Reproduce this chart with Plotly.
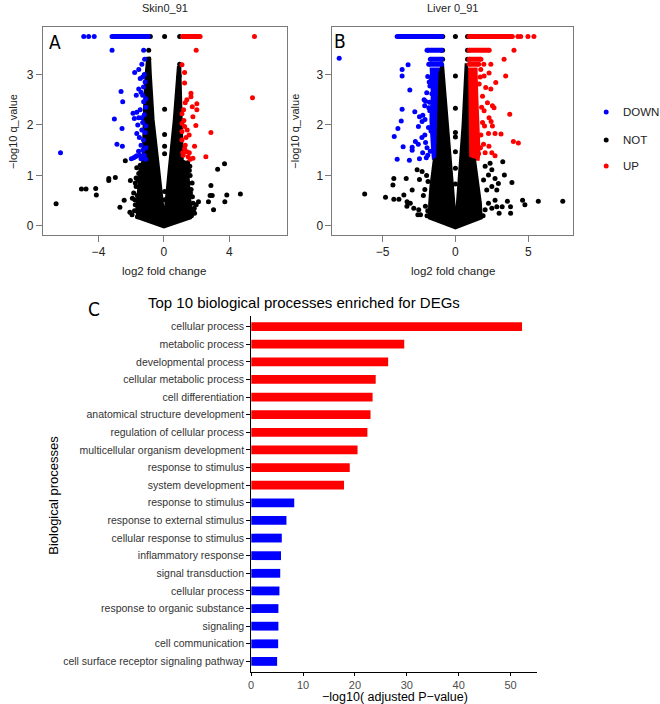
import plotly.graph_objects as go

W, H = 660, 704
FONT = "Liberation Sans, Arial, sans-serif"
NARROW = "Liberation Sans Narrow, DejaVu Sans Condensed, Arial Narrow, sans-serif"
BLUE, RED, BLACK = "#0000FF", "#FF0000", "#000000"

# ---------------- Panel A : Skin0_91 ----------------
A_down_x = [-4.90, -4.60, -4.26, -3.17, -1.24, -1.18, -1.35, -1.54, -1.79, -1.20, -1.30, -1.45,
            -1.15, -1.25, -1.54, -2.62, -1.40, -1.69, -1.30, -1.10, -2.52, -1.24, -1.12, -1.45,
            -1.66, -1.89, -1.20, -1.54, -1.36, -1.81, -3.03, -1.30, -1.60, -1.10, -2.56, -1.35,
            -1.15, -1.66, -1.50, -1.25, -2.87, -1.40, -2.54, -1.10, -1.30, -1.55, -6.32, -1.20,
            -1.66, -1.48, -1.75, -1.85, -1.99, -1.40, -1.12]
A_down_y = [3.75, 3.75, 3.75, 3.48, 3.48, 3.30, 3.20, 3.10, 3.04, 3.00, 2.95, 2.92,
            2.85, 2.75, 2.71, 2.66, 2.65, 2.59, 2.59, 2.52, 2.46, 2.46, 2.35, 2.30,
            2.25, 2.23, 2.20, 2.14, 2.14, 2.13, 2.12, 2.05, 2.00, 1.98, 1.93, 1.90,
            1.85, 1.83, 1.75, 1.70, 1.62, 1.60, 1.58, 1.55, 1.50, 1.48, 1.45, 1.40,
            1.39, 1.40, 1.37, 1.35, 1.33, 1.33, 1.32]
A_down_row_x0 = [-3.17]
A_down_row_x1 = [-0.95]
A_down_row_y = [3.75]

A_up_x = [5.53, 1.97, 1.10, 1.26, 1.26, 1.65, 1.65, 5.41, 1.40, 1.30, 2.01, 1.73, 2.01, 1.20,
          1.10, 1.77, 1.22, 1.10, 1.95, 1.26, 1.42, 1.10, 2.87, 1.54, 1.35, 1.10, 1.30, 1.87,
          1.26, 1.40, 1.15, 1.18, 1.55, 1.48, 2.56, 1.77, 1.60]
A_up_y = [3.75, 3.48, 3.19, 3.04, 2.83, 2.63, 2.56, 2.54, 2.50, 2.44, 2.42, 2.36, 2.30, 2.30,
          2.22, 2.16, 2.09, 2.03, 1.99, 1.97, 1.90, 1.87, 1.85, 1.80, 1.75, 1.70, 1.60, 1.58,
          1.53, 1.47, 1.45, 1.40, 1.45, 1.37, 1.37, 1.34, 1.32]
A_up_row_x0 = [1.14]
A_up_row_x1 = [2.21]
A_up_row_y = [3.75]

A_not_x = [-0.83, 0.04, 0.96, -0.93, -0.93, 0.96, 0.93, 0.04, 0.04, 0.04, 0.04, 0.04, 0.04,
           -6.59, -5.04, -4.76, -4.17, -4.13, -3.37, -3.37, -2.97, -2.36, -2.43, -2.69, -2.05,
           -2.08, -1.93, -1.75, -1.54, -1.70, -1.85, -1.80, -1.95, -1.70, -1.45, -1.62,
           3.28, 3.70, 2.87, 2.82, 2.95, 2.72, 3.84, 3.72, 4.67, 3.03, 2.11, 1.97, 1.87, 1.55,
           1.72, 1.62, 1.78, 1.85, 1.45, 1.68,
           -1.58, -1.62, -1.75, -1.78, -1.66, 1.60, 1.66, 1.74, 1.58, 1.80]
A_not_y = [3.75, 3.75, 3.75, 3.48, 3.30, 3.20, 2.97, 2.31, 1.81, 1.58, 1.43, 0.68, 0.52,
           0.44, 0.73, 0.73, 0.74, 0.61, 0.94, 0.90, 0.96, 1.29, 0.51, 0.37, 0.90,
           0.27, 0.55, 0.42, 1.04, 0.78, 0.65, 0.30, 0.22, 0.95, 1.20, 0.18,
           1.12, 1.23, 0.80, 0.60, 0.60, 0.48, 0.61, 0.48, 0.63, 0.32, 0.48, 0.42, 0.25, 1.10,
           0.85, 0.65, 0.45, 0.35, 1.25, 0.20,
           0.90, 0.60, 0.85, 0.52, 1.15, 1.00, 0.72, 0.58, 1.18, 0.30]
# outline of the saturated black mass of NOT genes
A_core_x = [-1.02, -1.12, -1.20, -1.25, -1.30, -1.50, -1.55, -1.65, -1.70, -1.60, 0.00, 1.65,
            1.70, 1.60, 1.55, 1.45, 1.15, 1.08, 1.00, 0.85, 0.60, 0.30, 0.02, -0.30, -0.63,
            -0.80, -0.85]
A_core_y = [3.35, 3.00, 2.50, 2.00, 1.30, 1.10, 0.80, 0.50, 0.30, 0.15, -0.03, 0.15,
            0.30, 0.55, 0.85, 1.25, 1.30, 2.50, 3.15, 3.15, 2.10, 1.15, 0.20, 1.15, 2.10,
            3.00, 3.35]

# ---------------- Panel B : Liver 0_91 ----------------
B_down_x = [-7.98, -3.25, -3.66, -3.66, -3.13, -3.66, -2.79, -2.11, -3.72, -2.29, -2.54, -3.95,
            -4.20, -2.75, -2.55, -3.59, -2.97, -2.97, -2.25, -2.47, -4.00, -3.16,
            -2.47, -2.24, -1.76, -1.83, -1.60, -2.09, -1.97, -2.15, -2.05, -1.90, -1.80, -1.65,
            -1.75, -2.10, -1.95, -1.90, -2.05, -1.85, -2.30, -2.00, -1.72, -1.68, -1.78, -1.62]
B_down_y = [3.32, 3.19, 3.10, 2.97, 2.69, 2.31, 2.26, 2.38, 2.08, 2.07, 1.97, 1.93,
            1.77, 1.67, 1.62, 1.57, 1.56, 1.50, 1.45, 1.33, 1.32, 1.30,
            2.16, 2.19, 2.28, 2.34, 2.20, 2.11, 2.64, 2.50, 2.47, 2.96, 2.85, 2.90,
            2.77, 1.80, 1.55, 1.40, 1.65, 1.95, 1.75, 1.35, 1.48, 1.88, 2.45, 2.62]
B_down_row_x0 = [-4.00, -1.95, -1.72, -1.83]
B_down_row_x1 = [-0.95, -0.95, -0.95, -0.95]
B_down_row_y = [3.75, 3.48, 3.30, 3.20]
B_down_band_x = [-1.05, -1.70, -1.62, -1.72, -1.62, -1.55, -1.10]
B_down_band_y = [3.12, 3.12, 2.60, 2.10, 1.60, 1.33, 1.33]

B_up_x = [4.29, 4.48, 4.98, 5.39, 4.02, 3.34, 2.43, 1.95, 1.74, 2.31, 1.97, 3.45, 2.77, 1.63,
          2.08, 2.43, 1.86, 2.20, 2.54, 2.65, 1.97, 3.73, 2.31, 2.45, 1.86, 2.00, 2.54, 2.27,
          2.72, 3.13, 3.98, 4.32, 1.93, 2.30, 2.04, 2.50, 1.59, 2.72, 1.75, 1.80, 1.70, 1.72]
B_up_y = [3.75, 3.75, 3.75, 3.75, 3.48, 3.30, 3.20, 3.20, 3.10, 3.03, 2.97, 2.97, 2.84, 2.81,
          2.74, 2.71, 2.57, 2.44, 2.38, 2.34, 2.28, 2.21, 2.14, 2.07, 2.05, 1.98, 1.98, 1.83,
          1.83, 1.82, 1.67, 1.64, 1.62, 1.58, 1.45, 1.45, 1.43, 1.39, 1.80, 2.35, 2.95, 1.55]
B_up_row_x0 = [0.95, 0.95, 0.95, 0.95]
B_up_row_x1 = [3.91, 2.32, 1.75, 1.60]
B_up_row_y = [3.75, 3.48, 3.30, 3.20]
B_up_band_x = [0.85, 1.45, 1.50, 1.60, 1.65, 1.60, 0.85]
B_up_band_y = [3.12, 3.12, 2.60, 2.00, 1.50, 1.31, 1.31]

B_not_x = [-0.87, 0.00, 0.83, -0.88, 0.83, -0.88, 0.83, 0.00, 0.00, 0.00, 0.00, 0.00, 0.00, 0.00,
           -6.23, -4.80, -4.23, -3.88, -3.54, -4.29, -4.23, -3.38, -2.97, -2.63, -2.47, -3.32,
           -3.10, -3.33, -2.86, -2.52, -2.58, -2.40, -2.06, -1.90, -2.29, -1.98, -1.88, -2.10,
           -2.20, -1.95,
           4.61, 4.77, 5.69, 7.37, 3.88, 3.25, 3.36, 3.57, 3.78, 3.79, 2.72, 2.84, 3.00, 3.21,
           2.27, 2.50, 2.04, 2.38, 2.50, 2.27, 2.72, 2.95, 2.50, 2.84, 2.04, 1.93, 2.15, 1.90]
B_not_y = [3.75, 3.75, 3.75, 3.48, 3.48, 3.30, 3.30, 2.97, 2.33, 1.85, 1.76, 1.47, 1.14, 0.83,
           0.63, 0.57, 0.53, 0.53, 0.61, 0.81, 0.94, 0.94, 0.71, 1.11, 0.92, 0.48,
           0.45, 0.39, 0.35, 0.32, 0.22, 0.22, 0.39, 0.30, 1.08, 1.00, 0.88, 0.72,
           0.60, 0.20,
           0.51, 0.42, 0.49, 0.49, 0.86, 1.27, 1.01, 0.49, 0.38, 0.25, 0.51, 0.38, 0.25, 0.38,
           0.45, 0.35, 0.32, 1.24, 1.11, 1.01, 0.94, 0.84, 0.78, 0.71, 1.18, 0.91, 0.71, 0.20]
B_core_x = [-0.95, -1.10, -1.20, -1.25, -1.49, -1.60, -1.72, -1.80, -1.83, 0.00, 1.81, 1.75,
            1.58, 1.45, 1.35, 0.88, 0.85, 0.80, 0.70, 0.49, 0.02, -0.53, -0.80, -0.85]
B_core_y = [3.20, 3.00, 2.00, 1.35, 1.31, 1.05, 0.78, 0.45, 0.15, -0.05, 0.15, 0.45,
            0.78, 1.05, 1.31, 1.35, 2.50, 3.20, 3.20, 2.00, 0.12, 2.00, 3.00, 3.20]

# ---------------- Panel C : GO enrichment ----------------
processes = ["cellular process", "metabolic process", "developmental process",
             "cellular metabolic process", "cell differentiation",
             "anatomical structure development", "regulation of cellular process",
             "multicellular organism development", "response to stimulus",
             "system development",
             "response to stimulus", "response to external stimulus",
             "cellular response to stimulus", "inflammatory response",
             "signal transduction", "cellular process", "response to organic substance",
             "signaling", "cell communication", "cell surface receptor signaling pathway"]
neglog10_padj = [52.2, 29.5, 26.4, 24.0, 23.4, 23.0, 22.4, 20.5, 19.0, 17.9,
                 8.3, 6.8, 5.9, 5.75, 5.6, 5.45, 5.25, 5.25, 5.2, 5.0]
regulation = ["UP"] * 10 + ["DOWN"] * 10

fig = go.Figure()


def rows(x0s, x1s, ys):
    xs, yy = [], []
    for a, b, y in zip(x0s, x1s, ys):
        xs += [a, b, None]
        yy += [y, y, None]
    return xs, yy


def add_volcano(ax, core, bands, pts, rowsets):
    xa, ya = ("x", "y") if ax == 1 else ("x%d" % ax, "y%d" % ax)
    for (bx, by, col) in bands:
        fig.add_trace(go.Scatter(x=bx, y=by, xaxis=xa, yaxis=ya, mode="lines", fill="toself",
                                 fillcolor=col, line=dict(color=col, width=2),
                                 hoverinfo="skip", showlegend=False))
    cx, cy = core
    fig.add_trace(go.Scatter(x=cx, y=cy, xaxis=xa, yaxis=ya, mode="lines", fill="toself",
                             fillcolor=BLACK, line=dict(color=BLACK, width=2),
                             hoverinfo="skip", showlegend=False))
    for (px, py, col) in pts:
        fig.add_trace(go.Scatter(x=px, y=py, xaxis=xa, yaxis=ya, mode="markers",
                                 marker=dict(color=col, size=5, line=dict(width=0)),
                                 showlegend=False))
    for (x0, x1, yv, col) in rowsets:
        rx, ry = rows(x0, x1, yv)
        fig.add_trace(go.Scatter(x=rx, y=ry, xaxis=xa, yaxis=ya, mode="lines+markers",
                                 line=dict(color=col, width=5),
                                 marker=dict(color=col, size=5, line=dict(width=0)),
                                 showlegend=False))


add_volcano(1, (A_core_x, A_core_y), [],
            [(A_not_x, A_not_y, BLACK), (A_down_x, A_down_y, BLUE), (A_up_x, A_up_y, RED)],
            [(A_down_row_x0, A_down_row_x1, A_down_row_y, BLUE),
             (A_up_row_x0, A_up_row_x1, A_up_row_y, RED)])
add_volcano(2, (B_core_x, B_core_y),
            [(B_down_band_x, B_down_band_y, BLUE), (B_up_band_x, B_up_band_y, RED)],
            [(B_not_x, B_not_y, BLACK), (B_down_x, B_down_y, BLUE), (B_up_x, B_up_y, RED)],
            [(B_down_row_x0, B_down_row_x1, B_down_row_y, BLUE),
             (B_up_row_x0, B_up_row_x1, B_up_row_y, RED)])

bar_colors = [RED if r == "UP" else BLUE for r in regulation]
positions = list(range(len(processes)))
fig.add_trace(go.Bar(x=neglog10_padj, y=positions, orientation="h", width=0.5,
                     marker=dict(color=bar_colors, line=dict(width=0)),
                     xaxis="x3", yaxis="y3", showlegend=False))


def px_x(p):
    return p / W


def px_y(p):
    return 1 - p / H


vol_y_dom = [px_y(235), px_y(27)]
axis_common = dict(showgrid=False, zeroline=False, showline=True, mirror=True,
                   linecolor="#7a7a7a", linewidth=1, ticks="outside", ticklen=6,
                   tickcolor="#7a7a7a", tickfont=dict(size=12, color="#222", family=FONT))
fig.update_layout(
    width=W, height=H, margin=dict(l=0, r=0, t=0, b=0),
    paper_bgcolor="white", plot_bgcolor="white", showlegend=False,
    font=dict(family=FONT, color="#222"),
    xaxis=dict(domain=[px_x(40), px_x(285)], range=[-7.4, 7.5], tickvals=[-4, 0, 4],
               anchor="y", **axis_common),
    yaxis=dict(domain=vol_y_dom, range=[-0.18, 3.94], tickvals=[0, 1, 2, 3],
               anchor="x", **axis_common),
    xaxis2=dict(domain=[px_x(331), px_x(573)], range=[-8.44, 8.1], tickvals=[-5, 0, 5],
                anchor="y2", **axis_common),
    yaxis2=dict(domain=vol_y_dom, range=[-0.18, 3.94], tickvals=[0, 1, 2, 3],
                anchor="x2", **axis_common),
    xaxis3=dict(domain=[px_x(249.3), px_x(536)], range=[0, 55], tickvals=[0, 10, 20, 30, 40, 50],
                anchor="y3", showgrid=False, zeroline=False, showline=True, linecolor="black",
                linewidth=1, ticks="outside", ticklen=3, tickcolor="black",
                tickfont=dict(size=11, color="#4d4d4d", family=FONT)),
    yaxis3=dict(domain=[px_y(672), px_y(316)], range=[len(processes) - 0.4, -0.6],
                tickvals=positions, ticktext=processes, anchor="x3",
                showgrid=False, zeroline=False, showline=True, linecolor="black", linewidth=1,
                ticks="outside", ticklen=4, tickcolor="black",
                tickfont=dict(size=10.5, color="#333", family=FONT)),
)

ann = []


def text(x, y, s, size, **kw):
    d = dict(x=px_x(x), y=px_y(y), xref="paper", yref="paper", text=s, showarrow=False,
             font=dict(size=size, color=kw.pop("color", "#222"), family=kw.pop("family", FONT)),
             xanchor=kw.pop("xanchor", "center"), yanchor=kw.pop("yanchor", "middle"))
    d.update(kw)
    ann.append(d)


text(163, 8, "Skin0_91", 11)
text(452, 8, "Liver 0_91", 11)
text(162, 271, "log2 fold change", 11.5)
text(452, 271, "log2 fold change", 11.5)
text(10, 131, "\u2212log10 q_value", 11, textangle=-90)
text(293, 131, "\u2212log10 q_value", 11, textangle=-90)
text(52, 42, "A", 19, family=NARROW, color="black")
text(339, 41, "B", 19, family=NARROW, color="black")
text(91, 309, "C", 19, family=NARROW, color="black")
text(302, 302, "Top 10 biological processes enriched for DEGs", 15, color="black")
text(50, 495, "Biological processes", 13, textangle=-90, color="black")
text(394, 697, "\u2212log10( adjusted P\u2212value)", 12.5, color="black")

legend_labels = ["DOWN", "NOT", "UP"]
legend_colors = [BLUE, BLACK, RED]
legend_py = [112, 140, 166]
shapes = []
for lab, col, ly in zip(legend_labels, legend_colors, legend_py):
    shapes.append(dict(type="circle", xref="paper", yref="paper",
                       x0=px_x(603.5), x1=px_x(608.5), y0=px_y(ly + 2.5), y1=px_y(ly - 2.5),
                       fillcolor=col, line=dict(width=0)))
    text(621, ly, lab, 11.5, xanchor="left")

fig.update_layout(annotations=ann, shapes=shapes)
fig.write_html("out.html", config={"displayModeBar": False},
               post_script="document.body.style.margin='0px';"
                           "document.body.style.overflow='hidden';")
